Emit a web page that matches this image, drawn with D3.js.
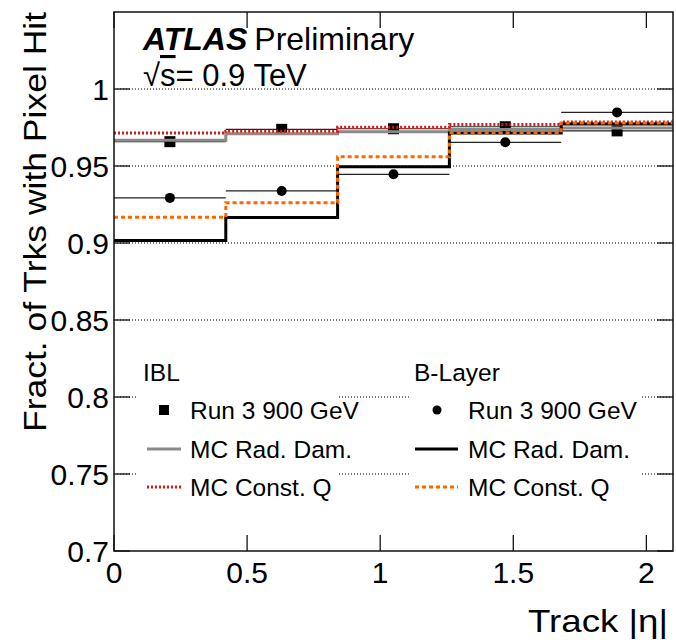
<!DOCTYPE html>
<html>
<head>
<meta charset="utf-8">
<script src="https://cdn.jsdelivr.net/npm/d3@7"></script>
<style>
  html, body { margin: 0; padding: 0; background: #fff; }
  svg text { font-family: "Liberation Sans", Arial, Helvetica, sans-serif; fill: #000; }
</style>
</head>
<body>
<svg id="chart" width="676" height="640"></svg>
<script>
// Track |eta| bins (5 bins of width 0.42)
const binEdges = [0, 0.42, 0.84, 1.26, 1.68, 2.1];

// IBL
const iblData    = [0.9658, 0.9738, 0.9742, 0.9755, 0.9728];
const iblRadDam  = [0.9667, 0.9710, 0.9722, 0.9737, 0.9746];
const iblConstQ  = [0.9714, 0.9726, 0.9752, 0.9770, 0.9786];

// B-Layer
const blData     = [0.9293, 0.9338, 0.9446, 0.9654, 0.9848];
const blRadDam   = [0.9017, 0.9166, 0.9495, 0.9715, 0.9772];
const blConstQ   = [0.9168, 0.9262, 0.9560, 0.9716, 0.9780];

// Axis ticks
const xTicks = [0, 0.5, 1, 1.5, 2];
const xTickLabels = ["0", "0.5", "1", "1.5", "2"];
const yTicks = [0.7, 0.75, 0.8, 0.85, 0.9, 0.95, 1];
const yTickLabels = ["0.7", "0.75", "0.8", "0.85", "0.9", "0.95", "1"];
const yGrid = [0.75, 0.8, 0.85, 0.9, 0.95, 1];

const svg = d3.select("#chart");
const frame = { left: 114, right: 673, top: 12, bottom: 551 };

const x = d3.scaleLinear().domain([0, 2.1]).range([frame.left, frame.right]);
const y = d3.scaleLinear().domain([0.7, 1.05]).range([frame.bottom, frame.top]);

const binCenters = binEdges.slice(0, -1).map((e, i) => (e + binEdges[i + 1]) / 2);

// dotted horizontal grid
svg.append("g").selectAll("line").data(yGrid).join("line")
  .attr("x1", frame.left).attr("x2", frame.right)
  .attr("y1", d => y(d)).attr("y2", d => y(d))
  .attr("stroke", "#000").attr("stroke-width", 1)
  .attr("stroke-dasharray", "1,2");

// step histogram helper
const stepLine = d3.line()
  .x(d => x(d[0])).y(d => y(d[1]))
  .curve(d3.curveStepAfter);
function histPoints(vals) {
  const pts = vals.map((v, i) => [binEdges[i], v]);
  pts.push([binEdges[binEdges.length - 1], vals[vals.length - 1]]);
  return pts;
}

// legend backgrounds (cover the grid)
const legendBoxes = [
  { x0: 137, x1: 338 },
  { x0: 409, x1: 641 }
];
svg.append("g").selectAll("rect").data(legendBoxes).join("rect")
  .attr("x", d => d.x0).attr("width", d => d.x1 - d.x0)
  .attr("y", 352).attr("height", 150)
  .attr("fill", "#fff");

const plot = svg.append("g");

// IBL data: horizontal bin-width bars + squares
plot.append("g").selectAll("line").data(iblData).join("line")
  .attr("x1", (d, i) => x(binEdges[i])).attr("x2", (d, i) => x(binEdges[i + 1]))
  .attr("y1", d => y(d)).attr("y2", d => y(d))
  .attr("stroke", "#222").attr("stroke-width", 1.2);
plot.append("g").selectAll("rect").data(iblData).join("rect")
  .attr("x", (d, i) => x(binCenters[i]) - 5.5).attr("y", d => y(d) - 5.5)
  .attr("width", 11).attr("height", 11).attr("fill", "#000");

// MC histograms
const series = [
  { vals: iblRadDam, color: "#8a8a8a", width: 3, dash: null },
  { vals: iblConstQ, color: "#dd1515", width: 3, dash: "2,2" },
  { vals: blRadDam,  color: "#000",    width: 3, dash: null },
  { vals: blConstQ,  color: "#ff6600", width: 3, dash: "4,3" }
];
plot.append("g").selectAll("path").data(series).join("path")
  .attr("d", d => stepLine(histPoints(d.vals)))
  .attr("fill", "none")
  .attr("stroke", d => d.color)
  .attr("stroke-width", d => d.width)
  .attr("stroke-dasharray", d => d.dash);

// B-Layer data: horizontal bin-width bars + circles
plot.append("g").selectAll("line").data(blData).join("line")
  .attr("x1", (d, i) => x(binEdges[i])).attr("x2", (d, i) => x(binEdges[i + 1]))
  .attr("y1", d => y(d)).attr("y2", d => y(d))
  .attr("stroke", "#222").attr("stroke-width", 1.2);
plot.append("g").selectAll("circle").data(blData).join("circle")
  .attr("cx", (d, i) => x(binCenters[i])).attr("cy", d => y(d))
  .attr("r", 5).attr("fill", "#000");

// frame
svg.append("rect")
  .attr("x", frame.left).attr("y", frame.top)
  .attr("width", frame.right - frame.left).attr("height", frame.bottom - frame.top)
  .attr("fill", "none").attr("stroke", "#111").attr("stroke-width", 1.5);

// ticks (inside, both sides)
const tickLen = 16;
const tk = svg.append("g").attr("stroke", "#111").attr("stroke-width", 1.3);
xTicks.forEach(v => {
  tk.append("line").attr("x1", x(v)).attr("x2", x(v)).attr("y1", frame.bottom).attr("y2", frame.bottom - tickLen);
  tk.append("line").attr("x1", x(v)).attr("x2", x(v)).attr("y1", frame.top).attr("y2", frame.top + tickLen);
});
yTicks.forEach(v => {
  tk.append("line").attr("y1", y(v)).attr("y2", y(v)).attr("x1", frame.left).attr("x2", frame.left + tickLen);
  tk.append("line").attr("y1", y(v)).attr("y2", y(v)).attr("x1", frame.right).attr("x2", frame.right - tickLen);
});

// tick labels
svg.append("g").selectAll("text").data(xTicks).join("text")
  .attr("x", d => x(d)).attr("y", 583)
  .attr("text-anchor", "middle").attr("font-size", 30)
  .text((d, i) => xTickLabels[i]);
svg.append("g").selectAll("text").data(yTicks).join("text")
  .attr("x", 109).attr("y", d => y(d) + 11)
  .attr("text-anchor", "end").attr("font-size", 30)
  .text((d, i) => yTickLabels[i]);

// axis titles
svg.append("text")
  .attr("x", 528).attr("y", 632)
  .attr("font-size", 32)
  .attr("textLength", 140).attr("lengthAdjust", "spacingAndGlyphs")
  .text("Track |η|");
svg.append("text")
  .attr("transform", `translate(46, 432) rotate(-90)`)
  .attr("font-size", 32)
  .attr("textLength", 420).attr("lengthAdjust", "spacingAndGlyphs")
  .text("Fract. of Trks with Pixel Hit");

// ATLAS label
const atl = svg.append("text").attr("x", 143).attr("y", 50).attr("font-size", 32);
atl.append("tspan").attr("font-weight", "bold").attr("font-style", "italic").text("ATLAS");
atl.append("tspan").attr("dx", 7).text("Preliminary");
const rs = svg.append("text").attr("x", 143).attr("y", 86).attr("font-size", 31);
rs.append("tspan").text("√");
rs.append("tspan").style("text-decoration", "overline").text("s");
rs.append("tspan").text("= 0.9 TeV");

// legends
const legFont = 24.5;
const legends = [
  { header: "IBL", hx: 143, symX: 164, lx0: 147, lx1: 181, tx: 190,
    rows: [
      { label: "Run 3 900 GeV", marker: "square" },
      { label: "MC Rad. Dam.", s: series[0] },
      { label: "MC Const. Q", s: series[1] }
    ] },
  { header: "B-Layer", hx: 414, symX: 437, lx0: 415, lx1: 458, tx: 468,
    rows: [
      { label: "Run 3 900 GeV", marker: "circle" },
      { label: "MC Rad. Dam.", s: series[2] },
      { label: "MC Const. Q", s: series[3] }
    ] }
];
const rowY = [410, 449, 487];
legends.forEach(L => {
  const g = svg.append("g");
  g.append("text").attr("x", L.hx).attr("y", 372 + 9).attr("font-size", legFont).text(L.header);
  L.rows.forEach((r, i) => {
    const cy = rowY[i];
    if (r.marker === "square") {
      g.append("rect").attr("x", L.symX - 5).attr("y", cy - 5).attr("width", 10).attr("height", 10).attr("fill", "#000");
    } else if (r.marker === "circle") {
      g.append("circle").attr("cx", L.symX).attr("cy", cy).attr("r", 4.5).attr("fill", "#000");
    } else {
      g.append("line").attr("x1", L.lx0).attr("x2", L.lx1).attr("y1", cy).attr("y2", cy)
        .attr("stroke", r.s.color).attr("stroke-width", r.s.width).attr("stroke-dasharray", r.s.dash);
    }
    g.append("text").attr("x", L.tx).attr("y", cy + 9).attr("font-size", legFont).text(r.label);
  });
});
</script>
</body>
</html>
